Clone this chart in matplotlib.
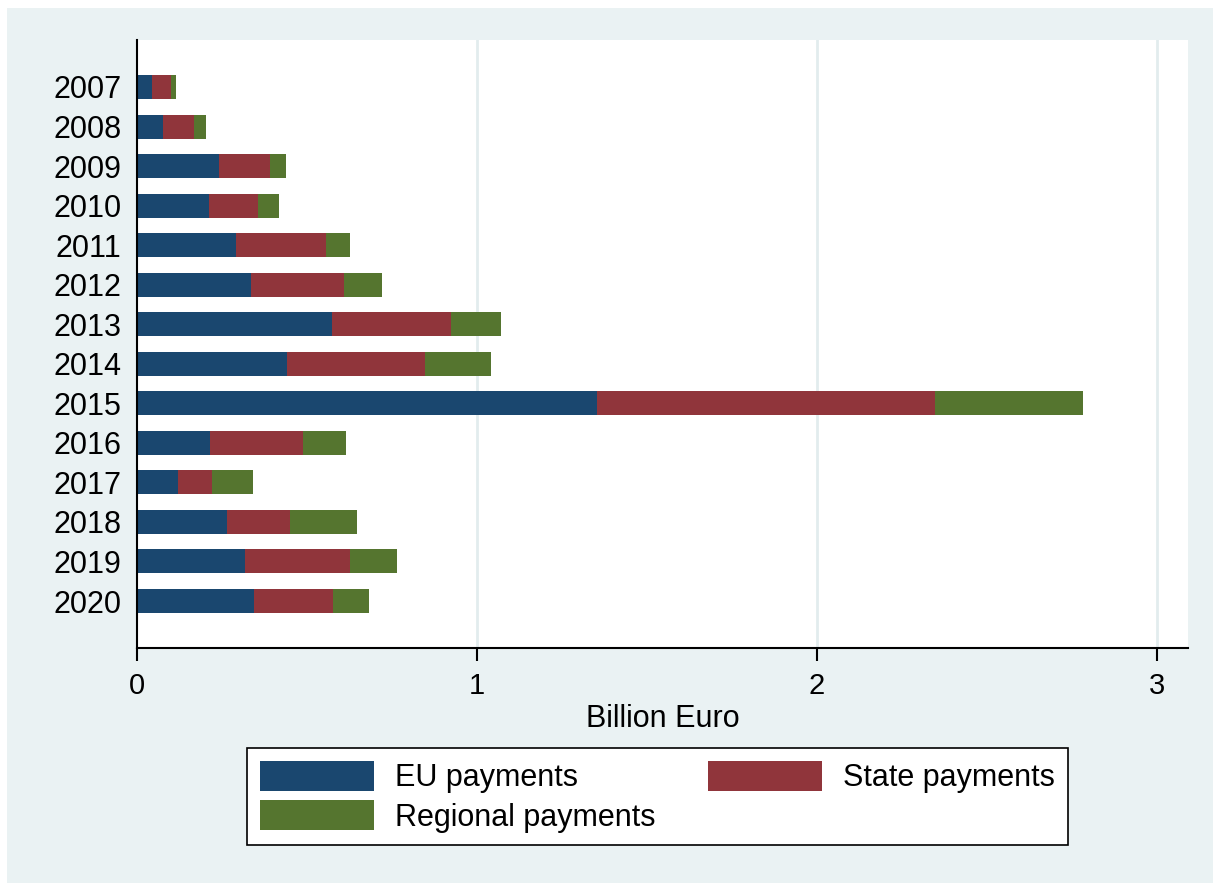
import matplotlib.pyplot as plt
from matplotlib.patches import Rectangle
import numpy as np

# Payments per year, billion euro
years = ["2007", "2008", "2009", "2010", "2011", "2012", "2013",
         "2014", "2015", "2016", "2017", "2018", "2019", "2020"]
eu_payments = [0.044, 0.076, 0.241, 0.212, 0.291, 0.335, 0.574,
               0.441, 1.353, 0.215, 0.121, 0.265, 0.318, 0.344]
state_payments = [0.056, 0.092, 0.150, 0.144, 0.265, 0.274, 0.350,
                  0.406, 0.994, 0.273, 0.100, 0.185, 0.308, 0.232]
regional_payments = [0.015, 0.035, 0.047, 0.062, 0.070, 0.112, 0.147,
                     0.194, 0.435, 0.127, 0.120, 0.197, 0.139, 0.106]

navy = "#1A476F"
maroon = "#90353B"
green = "#55752F"
bg = "#EAF2F3"

plt.rcParams["font.family"] = ["Liberation Sans", "DejaVu Sans"]

fig = plt.figure(figsize=(12.13, 8.83), dpi=100, facecolor="white")
# outer graph region
fig.patches.append(Rectangle((7 / 1213, 0), 1 - 7 / 1213, 1 - 8 / 883,
                             transform=fig.transFigure, facecolor=bg,
                             edgecolor="none", zorder=-5))

ax = fig.add_axes([137 / 1213, 1 - 648 / 883, 1051 / 1213, 608 / 883])
ax.set_zorder(2)
ax.set_facecolor("white")

pos = np.arange(len(years))
eu = np.array(eu_payments)
st = np.array(state_payments)
rg = np.array(regional_payments)
h = 0.607

b1 = ax.barh(pos, eu, height=h, color=navy, label="EU payments", zorder=3)
b2 = ax.barh(pos, st, left=eu, height=h, color=maroon, label="State payments", zorder=3)
b3 = ax.barh(pos, rg, left=eu + st, height=h, color=green, label="Regional payments", zorder=3)

ax.set_xlim(0, 1051 / 340)
ax.set_ylim(13 + 47 / 39.54, -47 / 39.54)
ax.set_yticks(pos)
ax.set_yticklabels(years, fontsize=22)
ax.tick_params(axis="y", length=0, pad=11)
ax.set_xticks([0, 1, 2, 3])
ax.set_xticklabels(["0", "1", "2", "3"], fontsize=21)
ax.tick_params(axis="x", length=9, width=1.5, pad=8)

for x in [1, 2, 3]:
    ax.axvline(x, color="#E2ECEE", linewidth=2, zorder=1)

for s in ["top", "right"]:
    ax.spines[s].set_visible(False)
for s in ["left", "bottom"]:
    ax.spines[s].set_linewidth(1.5)
    ax.spines[s].set_zorder(4)

ax.set_xlabel("Billion Euro", fontsize=22, labelpad=3)

leg = fig.legend([b1, b3, b2], ["EU payments", "Regional payments", "State payments"],
                 ncol=2, loc="upper left",
                 bbox_to_anchor=(247 / 1213, 1 - 748 / 883),
                 fontsize=22, frameon=True, fancybox=False,
                 edgecolor="black", framealpha=1,
                 handlelength=3.73, handleheight=1.15, handletextpad=0.7,
                 columnspacing=1.7, labelspacing=0.22, borderpad=0.42,
                 borderaxespad=0)
leg.set_zorder(5)
leg.get_frame().set_linewidth(1.2)

fig.savefig("out.png", dpi=100, facecolor="white")
